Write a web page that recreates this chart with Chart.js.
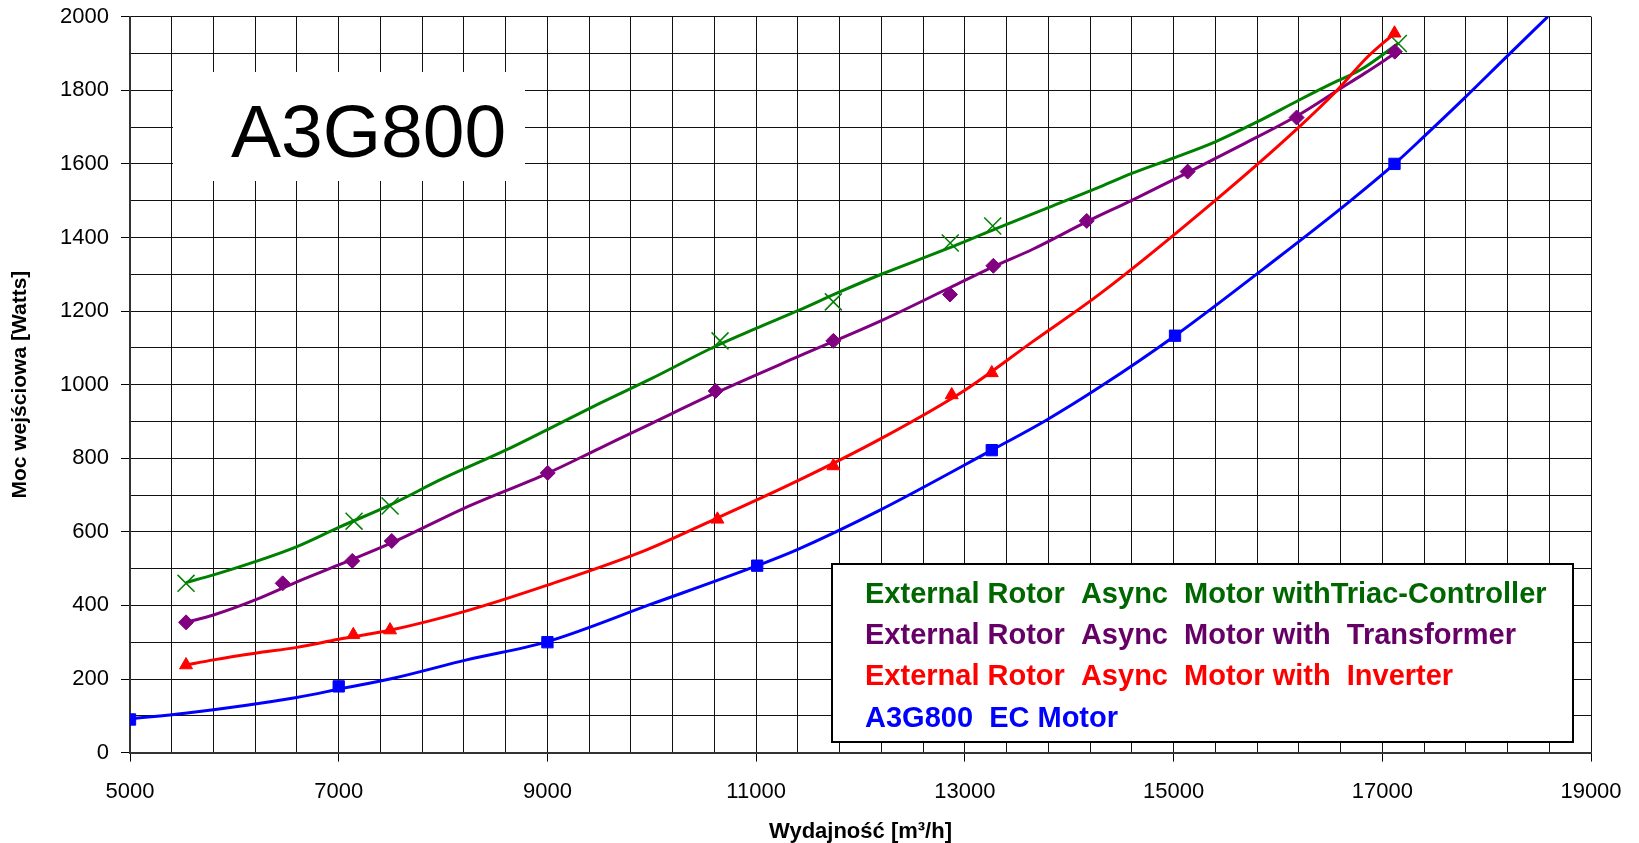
<!DOCTYPE html>
<html><head><meta charset="utf-8">
<script src="https://cdn.jsdelivr.net/npm/chart.js@4.4.1/dist/chart.umd.min.js"></script>
<style>html,body{margin:0;padding:0;background:#fff;overflow:hidden}canvas{display:block}</style>
</head><body>
<canvas id="c" width="1639" height="843"></canvas>
<script>
// ---------------- data ----------------
const xMin = 5000, xMax = 19000, xStep = 400, xLabelEvery = 2000;
const yMin = 0, yMax = 2000, yStep = 100, yLabelEvery = 200;
const xAxisTitle = 'Wydajność [m³/h]';
const yAxisTitle = 'Moc wejściowa [Watts]';
const modelName = 'A3G800';
const seriesNames = [
  'External Rotor  Async  Motor withTriac-Controller',
  'External Rotor  Async  Motor with  Transformer',
  'External Rotor  Async  Motor with  Inverter',
  'A3G800  EC Motor'
];

// Triac-controller (green)
const triacPtsX = [5537, 7147, 7492, 10654, 11740, 12860, 13267, 17154];
const triacPtsY = [460, 629, 670, 1119, 1225, 1385, 1431, 1927];
const triacCurveX = [5537, 5800, 6200, 6600, 7000, 7500, 8000, 8600, 9000, 9500, 10000, 10600, 11000, 11400, 11800, 12200, 12800, 13300, 13800, 14300, 14600, 15000, 15400, 15800, 16200, 16500, 16800, 17154];
const triacCurveY = [462, 483, 519, 560, 612, 674, 745, 822, 878, 949, 1017, 1103, 1153, 1201, 1252, 1300, 1366, 1424, 1481, 1538, 1574, 1616, 1660, 1714, 1773, 1816, 1857, 1928];

// Transformer (purple)
const transPtsX = [5537, 6463, 7130, 7508, 9003, 10612, 11740, 12858, 13273, 14168, 15135, 16179, 17120];
const transPtsY = [354, 460, 521, 575, 760, 983, 1119, 1245, 1323, 1445, 1579, 1726, 1905];
const transCurveX = [5537, 5800, 6200, 6600, 7000, 7500, 8200, 9000, 9500, 10000, 10600, 11400, 12200, 12860, 13270, 13650, 14170, 14600, 15135, 15650, 16180, 16600, 16830, 17120];
const transCurveY = [354, 374, 415, 464, 510, 569, 664, 759, 827, 895, 976, 1076, 1174, 1264, 1320, 1368, 1443, 1501, 1576, 1651, 1730, 1805, 1846, 1900];

// Inverter (red)
const invPtsX = [5537, 7140, 7492, 10629, 11740, 12874, 13258, 17117];
const invPtsY = [238, 320, 333, 634, 779, 972, 1032, 1955];
const invCurveX = [5537, 5800, 6200, 6600, 7000, 7500, 8200, 9000, 9950, 10600, 11400, 12200, 13000, 13650, 14300, 15400, 16170, 16570, 16860, 17117];
const invCurveY = [238, 252, 270, 286, 308, 333, 383, 455, 551, 634, 739, 854, 985, 1117, 1248, 1501, 1692, 1801, 1891, 1955];

// EC motor (blue)
const ecPtsX = [5000, 7000, 9000, 11010, 13258, 15014, 17117];
const ecPtsY = [90, 180, 300, 508, 822, 1133, 1600];
const ecCurveX = [5000, 5527, 6598, 7012, 7523, 8226, 8993, 10000, 11010, 11389, 12187, 13258, 13784, 14296, 15014, 16000, 16700, 17117, 17391, 17784, 18180, 18586];
const ecCurveY = [92, 107, 150, 173, 202, 252, 301, 404, 508, 551, 659, 822, 904, 994, 1133, 1345, 1501, 1600, 1672, 1778, 1888, 2000];

// ---------------- styles ----------------
const FONT = "'Liberation Sans', Arial, sans-serif";
const lineColors = ['#008000', '#800080', '#ff0000', '#0000ff'];
const legendColors = ['#006600', '#660066', '#ff0000', '#0000ff'];

const zip = (xs, ys) => xs.map((x, i) => ({x, y: ys[i]}));

function markerSet(xs, ys, color, style, radius, bw) {
  return {
    data: zip(xs, ys), showLine: false, pointStyle: style, pointRadius: radius,
    pointBackgroundColor: style === 'crossRot' ? 'rgba(0,0,0,0)' : color,
    pointBorderColor: color, pointBorderWidth: bw
  };
}
function curveSet(xs, ys, color) {
  return {
    data: zip(xs, ys), showLine: true, pointRadius: 0, borderColor: color,
    borderWidth: 3, cubicInterpolationMode: 'monotone', fill: false
  };
}

const overlay = {
  id: 'overlay',
  beforeDatasetsDraw(chart) {
    const ctx = chart.ctx;
    ctx.save();
    // model name box
    ctx.fillStyle = '#fff';
    ctx.fillRect(173, 72, 352, 109);
    ctx.fillStyle = '#000';
    ctx.font = '75px ' + FONT;
    ctx.textBaseline = 'alphabetic';
    ctx.textAlign = 'left';
    ctx.fillText(modelName, 231, 157);
    ctx.restore();
  },
  afterDraw(chart) {
    const ctx = chart.ctx;
    ctx.save();
    ctx.fillStyle = '#fff';
    ctx.fillRect(832, 564, 741, 178);
    ctx.strokeStyle = '#000';
    ctx.lineWidth = 2;
    ctx.strokeRect(832, 564, 741, 178);
    ctx.font = 'bold 29px ' + FONT;
    ctx.textBaseline = 'alphabetic';
    ctx.textAlign = 'left';
    seriesNames.forEach((n, i) => {
      ctx.fillStyle = legendColors[i];
      ctx.fillText(n, 865, 603 + i * 41.2);
    });
    ctx.restore();
  }
};

new Chart(document.getElementById('c'), {
  type: 'scatter',
  data: {
    datasets: [
      markerSet(ecPtsX, ecPtsY, lineColors[3], 'rect', 8, 1),
      markerSet(invPtsX, invPtsY, lineColors[2], 'triangle', 7.5, 1),
      markerSet(transPtsX, transPtsY, lineColors[1], 'rectRot', 7.5, 1),
      markerSet(triacPtsX, triacPtsY, lineColors[0], 'crossRot', 12, 1.5),
      curveSet(ecCurveX, ecCurveY, lineColors[3]),
      curveSet(invCurveX, invCurveY, lineColors[2]),
      curveSet(transCurveX, transCurveY, lineColors[1]),
      curveSet(triacCurveX, triacCurveY, lineColors[0])
    ]
  },
  options: {
    responsive: false,
    devicePixelRatio: 1,
    animation: false,
    layout: {padding: {left: 0, right: 48, top: 16.7, bottom: 0}},
    plugins: {legend: {display: false}, tooltip: {enabled: false}, title: {display: false}},
    scales: {
      x: {
        type: 'linear', min: xMin, max: xMax,
        afterFit: (s) => { s.height = 90.4; s.paddingLeft = 0; s.paddingRight = 0; },
        ticks: {
          stepSize: xStep, autoSkip: false, maxRotation: 0, minRotation: 0,
          padding: 17, color: '#000',
          font: {family: FONT, size: 22, lineHeight: 1.2},
          callback: (v) => ((v - xMin) % xLabelEvery === 0 ? String(v) : '')
        },
        grid: {
          color: '#111', lineWidth: 1, tickLength: 9,
          tickColor: (c) => (c.tick && (c.tick.value - xMin) % xLabelEvery === 0 ? '#000' : 'rgba(0,0,0,0)')
        },
        border: {color: '#333', width: 2},
        title: {display: true, text: xAxisTitle, color: '#000',
          font: {family: FONT, size: 22, weight: 'bold', lineHeight: 1.0},
          padding: {top: 0, bottom: 0}}
      },
      y: {
        type: 'linear', min: yMin, max: yMax,
        afterFit: (s) => { s.width = 130; s.paddingTop = 0; s.paddingBottom = 0; },
        ticks: {
          stepSize: yStep, autoSkip: false, padding: 12, color: '#000',
          font: {family: FONT, size: 22, lineHeight: 1.2},
          callback: (v) => ((v - yMin) % yLabelEvery === 0 ? String(v) : '')
        },
        grid: {
          color: '#111', lineWidth: 1, tickLength: 9,
          tickColor: (c) => (c.tick && (c.tick.value - yMin) % yLabelEvery === 0 ? '#000' : 'rgba(0,0,0,0)')
        },
        border: {color: '#333', width: 2},
        title: {display: true, text: yAxisTitle, color: '#000',
          font: {family: FONT, size: 21, weight: 'bold', lineHeight: 1.2},
          padding: {top: 8, bottom: 0}}
      }
    }
  },
  plugins: [overlay]
});
</script>
</body></html>
